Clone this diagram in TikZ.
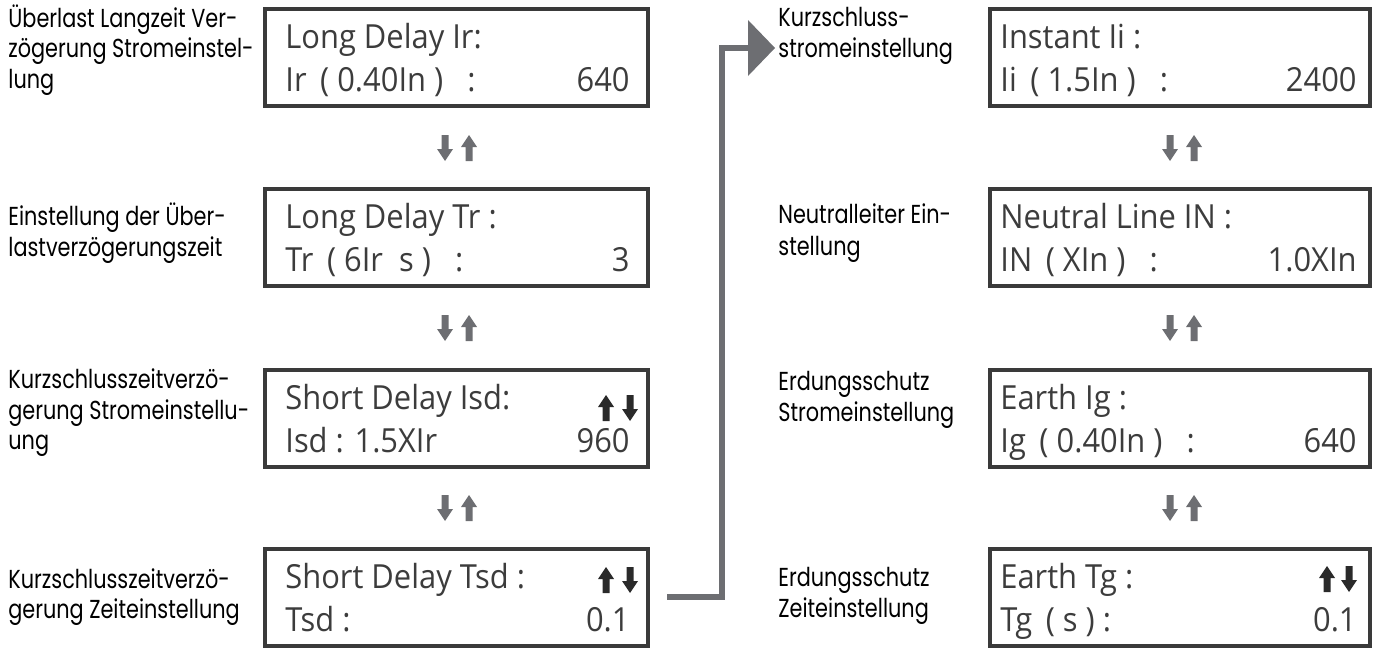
\documentclass[tikz,border=0pt]{standalone}
\usepackage{fontspec}
\setmainfont{Open Sans}
\newfontfamily\dispfont[FakeStretch=0.93]{Open Sans}
\newfontfamily\lblfont[FakeStretch=0.8]{Poppins}
\definecolor{boxline}{HTML}{3A3A3A}
\definecolor{disptext}{HTML}{3C3C3C}
\definecolor{arrgray}{HTML}{6D6E72}
\definecolor{keyblack}{HTML}{2A2A2A}
\begin{document}
\begin{tikzpicture}[x=0.5pt,y=-0.5pt,
  display/.style={draw=boxline,line width=2pt,minimum height=48.5pt,inner sep=0pt},
  lcol/.style={display,minimum width=191.5pt},
  rcol/.style={display,minimum width=190pt},
  dtxt/.style={font=\dispfont\fontsize{16.6}{19}\selectfont,text=disptext,inner sep=0pt},
  dl/.style={dtxt,anchor=base west},
  dr/.style={dtxt,anchor=base east},
  lbl/.style={font=\lblfont\fontsize{13}{15.2}\selectfont,anchor=west,inner sep=0pt,align=left,text=black},
  uarr/.pic={\fill (-3.5,13) -- (-3.5,-1) -- (-8,-1) -- (0,-13) -- (8,-1) -- (3.5,-1) -- (3.5,13) -- cycle;},
  darr/.pic={\fill (-3.5,-13) -- (-3.5,1) -- (-8,1) -- (0,13) -- (8,1) -- (3.5,1) -- (3.5,-13) -- cycle;},
  flowline/.style={draw=arrgray,line width=3pt,line join=miter},
  flowhead/.style={fill=arrgray}
]
\useasboundingbox (0,0) rectangle (1376,648);

% ---------- left column: displays ----------
\node[lcol] (b1) at (456.5,57) {};
\node[dl] (b1t) at (285,48) {Long Delay Ir:};
\node[dl] (b1a) at (285,91) {Ir\,\ ( 0.40In )\ \ \ :};
\node[dr] (b1v) at (630,91) {640};

\node[lcol] (b2) at (456.5,237) {};
\node[dl] (b2t) at (285,228) {Long Delay Tr :};
\node[dl] (b2a) at (285,271) {Tr\,\ ( 6Ir\ \ s )\ \ \ :};
\node[dr] (b2v) at (630,271) {3};

\node[lcol] (b3) at (456.5,418) {};
\node[dl] (b3t) at (285,409) {Short Delay Isd:};
\node[dl] (b3a) at (285,452) {Isd : 1.5XIr};
\node[dr] (b3v) at (630,452) {960};

\node[lcol] (b4) at (456.5,597) {};
\node[dl] (b4t) at (285,588) {Short Delay Tsd :};
\node[dl] (b4a) at (285,631) {Tsd :};
\node[dr] (b4v) at (630,631) {0.1};

% ---------- right column: displays ----------
\node[rcol] (c1) at (1180,57) {};
\node[dl] (c1t) at (1000,48) {Instant Ii :};
\node[dl] (c1a) at (1000,91) {Ii\,\ ( 1.5In )\ \ \ :};
\node[dr] (c1v) at (1357,91) {2400};

\node[rcol] (c2) at (1180,237) {};
\node[dl] (c2t) at (1000,228) {Neutral Line IN :};
\node[dl] (c2a) at (1000,271) {IN\,\ ( XIn )\ \ \ :};
\node[dr] (c2v) at (1357,271) {1.0XIn};

\node[rcol] (c3) at (1180,418) {};
\node[dl] (c3t) at (1000,409) {Earth Ig :};
\node[dl] (c3a) at (1000,452) {Ig\,\ ( 0.40In )\ \ \ :};
\node[dr] (c3v) at (1357,452) {640};

\node[rcol] (c4) at (1180,597) {};
\node[dl] (c4t) at (1000,588) {Earth Tg :};
\node[dl] (c4a) at (1000,631) {Tg\,\ ( s ) :};
\node[dr] (c4v) at (1357,631) {0.1};

% ---------- descriptions ----------
\node[lbl] (l1) at (8,50) {Überlast Langzeit Ver-\\zögerung Stromeinstel-\\lung};
\node[lbl] (l2) at (8,233) {Einstellung der Über-\\lastverzögerungszeit};
\node[lbl] (l3) at (8,413) {Kurzschlusszeitverzö-\\gerung Stromeinstellu-\\ung};
\node[lbl] (l4) at (8,597) {Kurzschlusszeitverzö-\\gerung Zeiteinstellung};

\begin{scope}[lbl/.append style={font=\lblfont\fontsize{13}{15.7}\selectfont}]
\node[lbl] (r1) at (778,36) {Kurzschluss-\\stromeinstellung};
\node[lbl] (r2) at (778,233) {Neutralleiter Ein-\\stellung};
\node[lbl] (r3) at (778,400) {Erdungsschutz\\Stromeinstellung};
\node[lbl] (r4) at (778,596) {Erdungsschutz\\Zeiteinstellung};
\end{scope}

% ---------- scrolling arrows between displays ----------
\begin{scope}[arrgray]
  \foreach \yy in {148,328,508}{
    \pic at (445,\yy) {darr};
    \pic at (469,\yy) {uarr};
    \pic at (1170,\yy) {darr};
    \pic at (1194,\yy) {uarr};
  }
\end{scope}

% ---------- key symbols inside displays ----------
\begin{scope}[keyblack,scale=0.72]
  \pic at (606/0.72,408/0.72) {uarr};
  \pic at (630/0.72,408/0.72) {darr};
  \pic at (606/0.72,580/0.72) {uarr};
  \pic at (630/0.72,580/0.72) {darr};
  \pic at (1327/0.72,579/0.72) {uarr};
  \pic at (1349/0.72,579/0.72) {darr};
\end{scope}

% ---------- transition to the right column ----------
\coordinate (fstart) at (667,597);
\coordinate (fbend) at (722,48);
\coordinate (fbase) at (748,48);
\coordinate (ftip) at (775,48);
\draw[flowline] (fstart) -| (fbend) -- (fbase);
\fill[flowhead] (ftip) -- ([yshift=-14]fbase) -- ([yshift=14]fbase) -- cycle;
\end{tikzpicture}
\end{document}
